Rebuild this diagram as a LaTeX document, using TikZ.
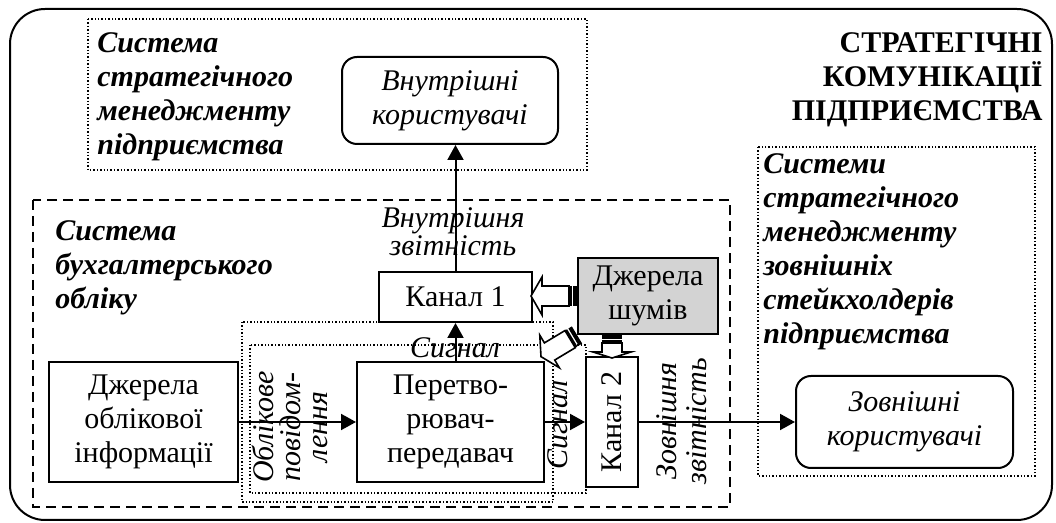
\documentclass[tikz,border=0pt]{standalone}
\usepackage{fontspec}
\setmainfont{Liberation Serif}
\usetikzlibrary{arrows.meta}
\definecolor{noisegray}{RGB}{211,211,211}

\begin{document}
\fontsize{15}{17}\selectfont
\begin{tikzpicture}[x=0.5pt, y=-0.5pt]
            % Define styles
            \tikzstyle{block} = [rectangle, draw, line width=1pt, align=center, inner sep=0pt]
            \tikzstyle{users} = [block, rounded corners=7.5pt, font=\itshape]
            \tikzstyle{noisebox} = [block, fill=noisegray]
            \tikzstyle{title} = [anchor=north west, align=left, inner sep=0pt, font=\bfseries\itshape]
            \tikzstyle{header} = [anchor=north east, align=right, inner sep=0pt, font=\bfseries]
            \tikzstyle{tag} = [align=center, inner sep=0pt, font=\itshape]
            \tikzstyle{arrow} = [line width=1pt, -{Triangle[length=7.5pt, width=8pt]}]
            \tikzstyle{dashbox} = [line width=1pt, dash pattern=on 5pt off 3pt]
            \tikzstyle{dotbox} = [line width=0.7pt, densely dotted]
            \tikzset{pics/noisearrow/.style 2 args={code={
                \fill (0,-10) rectangle (4,10);
                \fill (5.5,-10) rectangle (8,10);
                \draw[line width=0.8pt, fill=white] (8,-10) -- (#1-#2,-10) -- (#1-#2,-19) -- (#1,0)
                    -- (#1-#2,19) -- (#1-#2,10) -- (8,10) -- cycle;
            }}}

            \useasboundingbox (0,0) rectangle (1056,523);
            \draw[line width=1pt, rounded corners=17.5pt] (10,9) rectangle (1052,520);

            % STRATEGIC MANAGEMENT (top)
            \draw[dotbox] (88,19) rectangle (587,170);
            \node (mgmt_title) [title] at (97,32) {Система\\стратегічного\\менеджменту\\підприємства};

            \node (inner_users) [users, minimum width=108pt, minimum height=43.5pt] at (450,100.5) {Внутрішні\\користувачі};

            \node (header) [header] at (1043,32) {СТРАТЕГІЧНІ\\КОМУНІКАЦІЇ\\ПІДПРИЄМСТВА};

            % STAKEHOLDERS (right side)
            \draw[dotbox] (758,147) rectangle (1035,476);
            \node (ext_title) [title] at (763,153) {Системи\\стратегічного\\менеджменту\\зовнішніх\\стейкхолдерів\\підприємства};

            \node (outer_users) [users, minimum width=108.5pt, minimum height=46pt] at (904.5,422) {Зовнішні\\користувачі};

            % ACCOUNTING (left side)
            \draw[dashbox] (33,200) rectangle (730,507);
            \node (acc_title) [title] at (55,220) {Система\\бухгалтерського\\обліку};

            \draw[dotbox] (242,322) rectangle (553,502);
            \draw[dotbox] (250,345) rectangle (586,493);

            \node (source) [block, minimum width=94.5pt, minimum height=60pt] at (143.5,422) {Джерела\\облікової\\інформації};

            \node (coder) [block, minimum width=93.5pt, minimum height=60pt] at (450.5,422) {Перетво-\\рювач-\\передавач};

            \node (channel1) [block, minimum width=76.5pt, minimum height=25pt] at (455.5,297) {Канал 1};

            \node (channel2) [block, minimum width=26pt, minimum height=65pt] at (612,422) {\rotatebox{90}{Канал 2}};

            \node (noise) [noisebox, minimum width=70pt, minimum height=38pt] at (648,296) {Джерела\\шумів};

            % Labels
            \node (message) [tag, rotate=90, font=\itshape\fontsize{15}{13.5}\selectfont] at (290,427) {Облікове\\повідом-\\лення};
            \node (signal1) [tag] at (455,348) {Сигнал};
            \node (signal2) [tag, rotate=90] at (558,425) {Сигнал};
            \node (int_report) [tag, font=\itshape\fontsize{15}{12.5}\selectfont] at (453,232) {Внутрішня\\звітність};
            \node (ext_report) [tag, rotate=90, font=\itshape\fontsize{15}{15}\selectfont] at (682,421) {Зовнішня\\звітність};

            % Signal arrows
            \draw [arrow] (source) -- (coder);
            \draw [arrow] (coder.north -| channel1) -- (channel1);
            \draw [arrow] (coder) -- (channel2);
            \draw [arrow] (channel1.north) -- (channel1.north |- inner_users.south);
            \draw [arrow] (channel2) -- (outer_users);

            % Noise arrows
            \pic [rotate=180] at (noise.west) {noisearrow={46}{11}};
            \pic [rotate=-90] at (noise.south -| channel2) {noisearrow={23}{6}};
            \pic [rotate=211] at (noise.south west) {noisearrow={42}{10}};

      \end{tikzpicture}
\end{document}
